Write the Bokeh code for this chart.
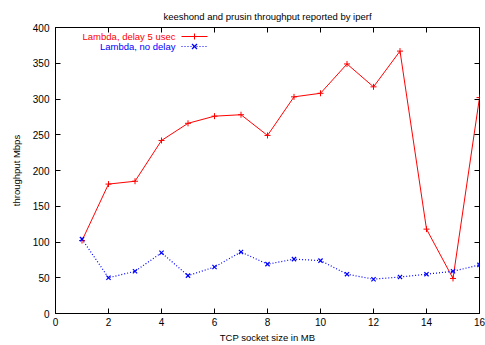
from bokeh.plotting import figure
from bokeh.models import LinearAxis, Range1d, FixedTicker, Label, Arrow
from bokeh.embed import file_html
from bokeh.resources import INLINE

socket_mb = [1, 2, 3, 4, 5, 6, 7, 8, 9, 10, 11, 12, 13, 14, 15, 16]
delay_5usec = [102, 181, 185, 242, 266, 276, 278, 249, 303, 308, 349, 317, 367, 118, 49, 302]
no_delay = [104, 50, 59, 85, 53, 65, 86, 69, 76, 74, 55, 48, 51, 55, 59, 68]
x_ticks = [0, 2, 4, 6, 8, 10, 12, 14, 16]
y_ticks = [0, 50, 100, 150, 200, 250, 300, 350, 400]
title_text = "keeshond and prusin throughput reported by iperf"

FONT = "Liberation Sans"
RED = "#ff0000"
BLUE = "#0000ff"

p = figure(frame_width=424, frame_height=286, output_backend="svg", toolbar_location=None,
           x_range=Range1d(0, 16), y_range=Range1d(0, 400),
           min_border_left=55, min_border_right=6, min_border_top=27, min_border_bottom=32,
           title=title_text)
p.title.align = "center"
p.title.vertical_align = "top"
p.title.text_font = FONT
p.title.text_font_size = "9.5px"
p.title.text_font_style = "normal"
p.title.text_color = "#000000"
p.title.standoff = 8
p.xgrid.visible = False
p.ygrid.visible = False
p.outline_line_color = "black"
p.outline_line_width = 1
p.outline_line_alpha = 1
p.background_fill_color = "white"
p.border_fill_color = "white"

def style_axis(ax, ticks, labels=True):
    ax.ticker = FixedTicker(ticks=ticks)
    ax.major_tick_in = 5
    ax.major_tick_out = 0
    ax.minor_tick_line_color = None
    ax.major_tick_line_color = "black"
    ax.axis_line_color = "black"
    ax.major_label_text_font = FONT
    ax.major_label_text_font_size = "10px"
    ax.major_label_text_color = "#000000"
    ax.axis_label_text_font = FONT
    ax.axis_label_text_font_size = "9.5px"
    ax.axis_label_text_font_style = "normal"
    ax.axis_label_text_color = "#000000"
    if not labels:
        ax.major_label_overrides = {t: "" for t in ticks}
        ax.major_label_standoff = 0
        ax.axis_line_color = None

xa = p.xaxis[0]
style_axis(xa, x_ticks)
xa.major_label_standoff = 4
xa.axis_label = "TCP socket size in MB"
xa.axis_label_standoff = 3

ya = p.yaxis[0]
style_axis(ya, y_ticks)
ya.major_label_standoff = 6
ya.axis_label = "throughput Mbps"
ya.axis_label_standoff = 8

top = LinearAxis()
style_axis(top, x_ticks, labels=False)
p.add_layout(top, "above")
right = LinearAxis()
style_axis(right, y_ticks, labels=False)
p.add_layout(right, "right")

# series 1 (drawn first, like gnuplot)
p.line(socket_mb, delay_5usec, line_color=RED, line_width=1)
p.scatter(socket_mb, delay_5usec, marker="cross", size=6, line_color=RED, line_width=1)
# series 2
p.line(socket_mb, no_delay, line_color=BLUE, line_width=1.2, line_dash="1 2")
p.scatter(socket_mb, no_delay, marker="x", size=6, line_color=BLUE, line_width=1.2)

# gnuplot-style key: right-justified coloured text, sample to the right
key_text_right = 120
key_rows = [(277, "Lambda, delay 5 usec", RED, "solid"), (267, "Lambda, no delay", BLUE, "1 2")]
for ky, txt, col, dash in key_rows:
    p.add_layout(Label(x=key_text_right, y=ky, x_units="screen", y_units="screen", text=txt,
                       text_align="right", text_baseline="middle", text_font=FONT,
                       text_font_size="9.5px", text_color=col))
    p.add_layout(Arrow(x_start=126, y_start=ky, x_end=152, y_end=ky, start_units="screen",
                       end_units="screen", end=None, line_color=col, line_width=1, line_dash=dash))
# key markers
p.add_layout(Arrow(x_start=139, y_start=key_rows[0][0] - 3, x_end=139, y_end=key_rows[0][0] + 3,
                   start_units="screen", end_units="screen", end=None, line_color=RED, line_width=1))
for dx in (-1, 1):
    p.add_layout(Arrow(x_start=139 - 2.5, y_start=key_rows[1][0] - 2.5 * dx, x_end=139 + 2.5,
                       y_end=key_rows[1][0] + 2.5 * dx, start_units="screen", end_units="screen",
                       end=None, line_color=BLUE, line_width=1.2))

open("out.html", "w").write(file_html(p, INLINE))
